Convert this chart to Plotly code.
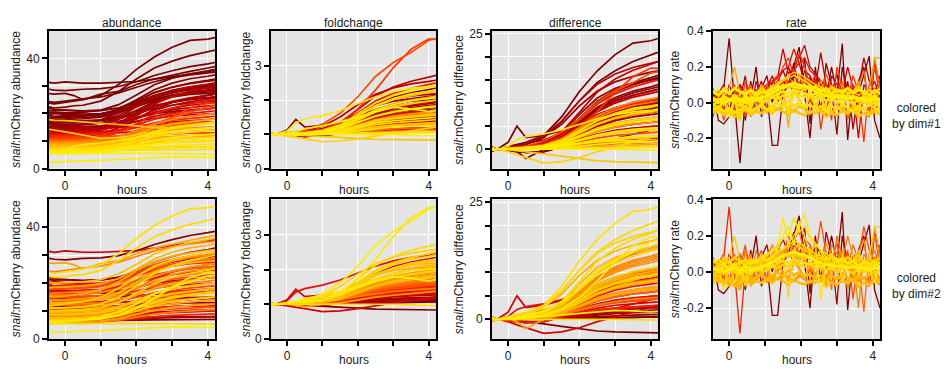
import plotly.graph_objects as go
from plotly.colors import sample_colorscale

# ---------------- data ----------------
HOURS = [-0.45, -0.3, 0, 0.25, 0.5, 1, 1.5, 2, 2.5, 3, 3.5, 4, 4.2]

# snail:mCherry abundance trajectories (one list per cell)
ABUNDANCE = [
    [31.3, 31, 31.5, 31.2, 31, 31, 31.2, 31.6, 32.5, 33.5, 34.3, 35.2, 35.5],
    [23.8, 23.5, 24, 24.5, 25, 26.5, 30.5, 36, 40.5, 44, 46.5, 47, 47.5],
    [22.4, 22, 22.3, 22.8, 23, 24.5, 28, 32.5, 36.5, 39, 41, 42.5, 43],
    [28.8, 28.5, 28.3, 28.6, 28.8, 29, 29.8, 31.5, 33.8, 35.5, 37, 38, 38.5],
    [27.2, 27, 27.3, 26.5, 25, 27, 28, 30.5, 32.5, 34, 35.3, 36.5, 37],
    [24.3, 24, 24.5, 25, 25.3, 26, 27.5, 29.5, 31.5, 33, 34, 34.7, 35],
    [22, 21.5, 21.2, 21, 20.8, 21, 22, 24.5, 27.5, 29.5, 31, 32, 32.5],
    [21.2, 21, 21.2, 21, 21, 21.2, 22, 24, 26.5, 28.3, 29.5, 30.2, 30.5],
    [20.5, 20.5, 20.2, 20, 19.8, 20, 21, 23.2, 25.8, 27.5, 28.6, 29.2, 29.5],
    [19.6, 20, 19.7, 19.5, 19.3, 19.5, 20.5, 22.5, 25, 26.5, 27.7, 28.3, 28.5],
    [20.3, 20, 20.1, 20.2, 20.4, 21.2, 23.2, 26.7, 30.4, 32.8, 34.4, 35.5, 36],
    [18.3, 18.5, 18.6, 18.8, 19, 19.7, 21.6, 25, 28.6, 31, 32.6, 33.5, 34],
    [19.3, 19, 19.1, 19.2, 19.3, 19.9, 21.2, 23.6, 26.1, 27.8, 28.9, 29.7, 30],
    [17.7, 18, 18.1, 18.3, 18.4, 19, 20.6, 23.5, 26.5, 28.4, 29.7, 30.6, 31],
    [17.3, 17, 17.1, 17.2, 17.3, 17.7, 18.8, 20.8, 22.9, 24.2, 25.1, 25.7, 26],
    [16.2, 16.5, 16.6, 16.8, 16.9, 17.6, 19.3, 22.4, 25.6, 27.7, 29.1, 30, 30.5],
    [16.4, 16, 16.1, 16.1, 16.2, 16.5, 17.2, 18.5, 19.9, 20.8, 21.4, 21.8, 22],
    [15.3, 15.5, 15.6, 15.8, 15.9, 16.6, 18.2, 21.2, 24.3, 26.3, 27.7, 28.6, 29],
    [15.2, 15, 15.3, 15.7, 16.2, 17.6, 20.4, 24.4, 27.6, 29.6, 30.8, 31.7, 32],
    [14.8, 14.5, 14.5, 14.6, 14.6, 14.7, 15, 15.5, 16.1, 16.5, 16.8, 17, 17],
    [13.7, 14, 14.1, 14.3, 14.4, 15, 16.6, 19.5, 22.5, 24.4, 25.7, 26.6, 27],
    [13.8, 13.5, 13.6, 13.7, 13.8, 14.2, 15.2, 17.1, 19, 20.3, 21.2, 21.7, 22],
    [12.8, 13, 13.1, 13.3, 13.4, 14, 15.5, 18.3, 21.1, 23, 24.3, 25.1, 25.5],
    [12.7, 12.5, 12.5, 12.6, 12.6, 12.7, 13, 13.5, 14.1, 14.5, 14.8, 15, 15],
    [11.8, 12, 12.4, 12.8, 13.3, 14.9, 18.1, 22.5, 26.1, 28.3, 29.7, 30.6, 31],
    [11.2, 11, 11.2, 11.4, 11.6, 12.5, 14.8, 19, 23.4, 26.2, 28.1, 29.4, 30],
    [12.2, 12, 12.1, 12.1, 12.2, 12.6, 13.4, 14.9, 16.6, 17.6, 18.3, 18.8, 19],
    [11.3, 11.5, 11.5, 11.5, 11.6, 11.6, 11.8, 12.1, 12.5, 12.7, 12.9, 13, 13],
    [11.3, 11, 11.1, 11.2, 11.3, 11.9, 13.2, 15.6, 18.2, 19.8, 20.9, 21.7, 22],
    [10.3, 10.5, 10.6, 10.6, 10.7, 11, 11.8, 13.2, 14.7, 15.7, 16.4, 16.8, 17],
    [10.2, 10, 10.2, 10.3, 10.5, 11.2, 13, 16.3, 19.8, 22, 23.5, 24.6, 25],
    [9.8, 10, 10, 10, 10.1, 10.2, 10.4, 10.8, 11.3, 11.6, 11.8, 11.9, 12],
    [9.7, 9.5, 9.6, 9.7, 9.8, 10.3, 11.6, 13.9, 16.3, 17.9, 19, 19.7, 20],
    [6.2, 6, 6.2, 6.5, 6.7, 7.8, 9.7, 12.6, 16.2, 18.6, 20.4, 22.5, 22.8],
    [6.4, 6.3, 6.4, 6.6, 6.8, 7.2, 8.5, 11, 14.5, 18.6, 22, 23.9, 23.8],
    [9.2, 9, 9.1, 9.1, 9.2, 9.5, 10.2, 11.5, 12.9, 13.8, 14.4, 14.8, 15],
    [8.8, 9, 9, 9, 9, 9.1, 9.2, 9.4, 9.6, 9.8, 9.9, 10, 10],
    [8.7, 8.5, 8.6, 8.7, 8.8, 9.3, 10.4, 12.5, 14.7, 16.1, 17, 17.7, 18],
    [7.8, 8, 8, 8.1, 8.1, 8.4, 8.9, 9.9, 10.9, 11.6, 12, 12.4, 12.5],
    [7.7, 7.5, 7.6, 7.7, 7.8, 8.3, 9.4, 11.5, 13.7, 15.1, 16, 16.7, 17],
    [7.4, 7.5, 7.5, 7.5, 7.5, 7.5, 7.6, 7.7, 7.8, 7.9, 8, 8, 8],
    [7.2, 7, 7.1, 7.1, 7.2, 7.6, 8.4, 9.9, 11.6, 12.6, 13.3, 13.8, 14],
    [6.9, 7, 7, 7.1, 7.1, 7.2, 7.6, 8.3, 9, 9.4, 9.7, 9.9, 10],
    [6.6, 6.5, 6.6, 6.7, 6.8, 7.2, 8.2, 10.1, 12, 13.3, 14.2, 14.7, 15],
    [6.6, 6.5, 6.5, 6.5, 6.5, 6.5, 6.6, 6.7, 6.8, 6.9, 7, 7, 7],
    [6.1, 6, 6, 6.1, 6.1, 6.2, 6.6, 7.3, 8, 8.4, 8.7, 8.9, 9],
    [5.9, 6, 6.1, 6.1, 6.2, 6.5, 7.3, 8.7, 10.2, 11.2, 11.9, 12.3, 12.5],
    [5.4, 5.5, 5.5, 5.4, 5.5, 5.5, 5.6, 5.5, 5.6, 5.5, 5.4, 5.3, 5.3],
    [2.3, 2.4, 2.5, 2.6, 2.8, 3, 3.3, 3.6, 4, 4.3, 4.2, 4.0, 4.1],
    [11.3, 11.5, 13, 16.5, 14, 14.5, 15.5, 18, 21.5, 24, 25.5, 26.5, 27],
    [6, 6, 6.6, 8.1, 8.7, 9.3, 10.2, 11.4, 12.6, 13.5, 14.1, 14.4, 14.7],
    [17.8, 17.5, 17.4, 17.2, 17, 16.5, 16, 15.5, 15, 14.8, 14.7, 14.7, 14.6],
    [14.3, 14, 13.5, 12.8, 12.2, 11, 11.3, 12.2, 13.5, 14.5, 15.5, 16.5, 17],
    [18.6, 18.8, 18.9, 19, 19.1, 19.5, 20.5, 22.5, 24.6, 26, 26.9, 27.3, 27.5],
    [18, 17.8, 17.9, 18, 18.1, 18.7, 20.1, 22.7, 25.2, 26.8, 27.8, 28.3, 28.5],
    [16.6, 16.8, 16.9, 17, 17.1, 17.4, 18.3, 20, 21.8, 23, 23.8, 24.3, 24.5],
    [16, 15.8, 15.9, 16, 16.1, 16.6, 17.9, 20.1, 22.5, 24, 25.1, 25.7, 26],
    [14.6, 14.8, 14.9, 15, 15.1, 15.5, 16.5, 18.3, 20.1, 21.4, 22.2, 22.8, 23],
    [14, 13.8, 13.9, 14, 14.1, 14.6, 15.8, 18.1, 20.4, 21.9, 23, 23.7, 24],
    [12.8, 13, 13, 13.1, 13.1, 13.4, 14, 15.1, 16.2, 17, 17.5, 17.9, 18],
    [12.4, 12.2, 12.3, 12.4, 12.5, 12.9, 14, 15.9, 17.9, 19.2, 20.1, 20.7, 21],
    [10.6, 10.8, 10.8, 10.9, 10.9, 11.1, 11.5, 12.4, 13.2, 13.8, 14.1, 14.4, 14.5],
    [10, 9.8, 9.9, 10, 10.1, 10.5, 11.4, 13.2, 15.1, 16.4, 17.2, 17.8, 18],
    [9, 9.2, 9.2, 9.3, 9.3, 9.4, 9.8, 10.4, 11, 11.4, 11.7, 11.9, 12],
    [8.4, 8.2, 8.3, 8.4, 8.4, 8.8, 9.6, 11.1, 12.6, 13.6, 14.3, 14.8, 15],
    [7.6, 7.8, 7.8, 7.9, 7.9, 8, 8.3, 8.9, 9.5, 9.9, 10.2, 10.4, 10.5],
    [7.4, 7.2, 7.3, 7.3, 7.4, 7.6, 8.1, 9.1, 10.1, 10.7, 11.1, 11.4, 11.5],
    [6.7, 6.8, 6.9, 7, 7.1, 7.6, 8.7, 10.9, 13.1, 14.6, 15.6, 16.2, 16.5],
    [6.4, 6.3, 6.3, 6.3, 6.4, 6.4, 6.6, 7, 7.4, 7.7, 7.8, 7.9, 8],
    [5.7, 5.8, 5.8, 5.9, 5.9, 6.2, 6.8, 7.8, 8.9, 9.6, 10.1, 10.4, 10.5],
    [8.9, 8.8, 8.9, 9.0, 9.2, 9.7, 11.1, 13.5, 16.1, 17.8, 19, 19.7, 20],
    [12.6, 12.8, 13, 13.2, 13.4, 14.2, 16.4, 20.3, 23.9, 26, 27.2, 27.8, 28],
    [15.2, 15, 15, 15.1, 15.1, 15.4, 16, 17.1, 18.3, 19.1, 19.6, 19.9, 20],
]
# colour value of each cell along embedding dimension 1 and 2 (0 = dark red, 1 = yellow)
DIM1 = [0.0, 0.01, 0.02, 0.0, 0.03, 0.02, 0.04, 0.03, 0.05, 0.06, 0.02, 0.04,
        0.06, 0.07, 0.09, 0.1, 0.12, 0.13, 0.1, 0.16, 0.18, 0.22, 0.25, 0.3,
        0.22, 0.25, 0.4, 0.45, 0.42, 0.5, 0.38, 0.55, 0.58, 0.5, 0.45, 0.65,
        0.7, 0.72, 0.76, 0.8, 0.82, 0.85, 0.88, 0.9, 0.92, 0.95, 0.97, 1.0, 1.0,
        0.03, 0.95, 0.8, 0.85,
        0.05, 0.08, 0.11, 0.14, 0.17, 0.22, 0.3, 0.35, 0.5, 0.6, 0.66, 0.75,
        0.8, 0.86, 0.9, 0.94, 0.98, 0.6, 0.15, 0.15]
DIM2 = [0.25, 0.92, 0.88, 0.05, 0.7, 0.6, 0.1, 0.05, 0.3, 0.4, 0.78, 0.74,
        0.35, 0.5, 0.3, 0.62, 0.2, 0.6, 0.72, 0.1, 0.65, 0.5, 0.66, 0.15,
        0.86, 0.88, 0.48, 0.1, 0.7, 0.52, 0.84, 0.2, 0.74, 0.98, 0.96, 0.55,
        0.08, 0.76, 0.45, 0.8, 0.04, 0.7, 0.35, 0.82, 0.06, 0.4, 0.72, 0.9, 1.0,
        0.3, 0.35, 0.02, 0.3,
        0.4, 0.5, 0.35, 0.55, 0.5, 0.62, 0.35, 0.6, 0.3, 0.7, 0.3, 0.7,
        0.25, 0.5, 0.85, 0.2, 0.6, 0.8, 0.75, 0.25]

RATE_HOURS = [-0.45, -0.3, -0.15, 0, 0.15, 0.3, 0.45, 0.6, 0.75, 0.9, 1.05, 1.2,
              1.35, 1.5, 1.65, 1.8, 1.95, 2.1, 2.25, 2.4, 2.55, 2.7, 2.85, 3.0,
              3.15, 3.3, 3.45, 3.6, 3.75, 3.9, 4.05, 4.2]
RATE = [
    [0.04, -0.02, 0.08, 0.36, 0.0, -0.34, 0.02, 0.08, -0.05, 0.06, 0.03, 0.1, 0.05, 0.12, 0.08, 0.15,
     0.1, 0.06, 0.12, 0.04, 0.1, 0.05, 0.08, 0.02, 0.06, 0.1, 0.03, 0.07, 0.02, 0.05, 0.08, 0.03],
    [0.08, -0.1, -0.12, -0.08, 0.05, 0.1, -0.05, 0.02, 0.2, -0.08, 0.05, -0.24, -0.24, 0.05, 0.1, 0.2,
     0.31, 0.05, -0.2, 0.15, 0.1, 0.02, 0.2, 0.05, 0.33, -0.21, 0.1, 0.05, 0.15, 0.26, -0.1, -0.2],
    [-0.02, 0.05, -0.05, 0.1, 0.02, 0.08, -0.1, 0.12, -0.05, 0.08, 0.15, 0.0, 0.12, 0.18, 0.1, 0.22,
     0.08, 0.25, -0.12, 0.2, -0.05, 0.22, 0.1, -0.18, 0.2, 0.05, -0.05, 0.12, 0.2, -0.08, 0.22, 0.1],
    [0.0, 0.05, 0.1, -0.05, 0.08, 0.02, 0.15, -0.08, 0.05, 0.12, -0.05, 0.1, 0.0, 0.08, 0.2, 0.12,
     0.05, 0.18, 0.15, 0.08, 0.28, 0.1, 0.05, 0.16, 0.02, 0.12, -0.15, 0.08, 0.25, 0.12, 0.05, 0.15],
    [0.05, -0.05, 0.02, 0.06, -0.08, 0.1, 0.05, -0.06, 0.12, 0.02, 0.08, 0.15, 0.05, 0.12, 0.08, 0.18,
     0.22, 0.1, 0.14, 0.05, 0.12, -0.08, 0.15, 0.1, 0.05, 0.2, 0.08, -0.2, 0.1, 0.05, 0.12, 0.02],
    [0.02, 0.06, -0.04, 0.05, 0.1, -0.05, 0.12, 0.05, 0.0, 0.08, -0.06, 0.1, 0.15, 0.08, 0.12, 0.05,
     0.16, 0.1, 0.0, 0.12, 0.05, 0.1, -0.1, 0.2, 0.08, 0.02, 0.15, 0.06, -0.22, 0.1, 0.2, 0.04],
    [-0.04, 0.03, 0.07, 0.0, 0.05, 0.08, 0.0, 0.1, -0.04, 0.05, 0.1, 0.02, 0.12, 0.06, 0.15, 0.1,
     0.05, 0.14, 0.1, 0.08, 0.02, 0.16, 0.08, 0.05, 0.12, -0.1, 0.06, 0.1, 0.18, -0.05, 0.25, 0.08],
    [0.03, 0.0, 0.05, 0.08, 0.2, 0.05, -0.05, 0.06, 0.02, 0.1, 0.04, 0.08, 0.05, 0.1, -0.14, 0.12,
     0.15, 0.08, 0.1, 0.05, 0.12, 0.04, 0.08, -0.02, 0.1, 0.04, 0.06, 0.12, 0.02, 0.08, 0.25, 0.25],
    [0.02, 0.04, 0.0, 0.03, 0.05, 0.02, 0.04, 0.06, 0.05, 0.08, 0.1, 0.12, 0.15, 0.18, 0.2, 0.3,
     0.22, 0.25, 0.18, 0.15, 0.12, 0.1, 0.08, 0.06, 0.08, 0.05, 0.04, 0.06, 0.03, 0.05, 0.04, 0.02],
    [0.0, 0.03, 0.05, 0.02, 0.04, 0.06, 0.03, 0.05, 0.07, 0.06, 0.09, 0.11, 0.14, 0.3, 0.16, 0.2,
     0.25, 0.32, 0.2, 0.16, 0.12, 0.08, 0.1, 0.05, 0.07, 0.04, 0.06, 0.03, 0.05, 0.04, 0.06, 0.03],
    [0.03, 0.01, 0.04, 0.02, 0.03, 0.01, 0.04, 0.02, 0.05, 0.04, 0.06, 0.08, 0.1, 0.12, 0.14, 0.15,
     0.14, 0.12, 0.1, 0.08, 0.07, 0.06, 0.05, 0.04, 0.05, 0.03, 0.04, 0.03, 0.02, 0.04, 0.03, 0.02],
    [0.01, 0.02, 0.0, 0.01, 0.02, 0.0, 0.03, 0.01, 0.02, 0.03, 0.04, 0.05, 0.07, 0.09, 0.1, 0.11,
     0.1, 0.09, 0.08, 0.06, 0.05, 0.04, 0.04, 0.03, 0.03, 0.02, 0.03, 0.02, 0.02, 0.01, 0.02, 0.02],
    [-0.04, -0.02, -0.05, -0.03, -0.06, -0.04, -0.02, -0.05, -0.03, -0.01, -0.04, -0.02, 0.0, -0.03, 0.01, -0.02,
     0.0, -0.03, -0.01, -0.04, -0.02, -0.05, -0.02, -0.04, -0.01, -0.03, -0.05, -0.02, -0.04, -0.01, -0.03, -0.05],
    [0.06, 0.04, 0.07, 0.05, 0.08, 0.06, 0.05, 0.07, 0.04, 0.06, 0.05, 0.07, 0.09, 0.08, 0.1, 0.09,
     0.08, 0.1, 0.07, 0.09, 0.06, 0.08, 0.05, 0.07, 0.06, 0.08, 0.05, 0.07, 0.06, 0.04, 0.07, 0.05],
    [-0.08, 0.02, -0.1, 0.04, -0.06, 0.02, -0.08, 0.03, 0.0, 0.05, 0.02, 0.08, 0.12, 0.2, 0.25, 0.15,
     0.28, 0.2, 0.1, 0.15, -0.15, 0.05, 0.02, 0.08, -0.05, 0.04, 0.1, -0.02, 0.06, 0.02, -0.06, 0.04],
    [0.0, -0.06, 0.04, -0.08, 0.02, -0.1, 0.05, -0.04, 0.06, -0.02, 0.03, -0.06, 0.04, 0.0, -0.05, 0.06,
     0.02, -0.04, 0.05, -0.02, 0.04, -0.06, 0.02, 0.05, -0.03, 0.06, 0.0, -0.04, 0.05, -0.02, 0.03, -0.05],
    [0.02, 0.0, 0.03, 0.01, 0.04, 0.02, 0.0, 0.03, 0.01, 0.02, 0.04, 0.03, 0.05, 0.06, 0.05, 0.07,
     0.06, 0.05, 0.04, 0.05, 0.03, 0.04, 0.02, 0.03, 0.04, 0.02, 0.03, 0.01, 0.03, 0.02, 0.04, 0.01],
    [-0.02, 0.01, -0.01, 0.02, 0.0, -0.02, 0.01, -0.01, 0.02, 0.0, 0.01, 0.03, 0.02, 0.04, 0.03, 0.05,
     0.04, 0.03, 0.05, 0.02, 0.03, 0.01, 0.02, 0.0, 0.02, 0.01, -0.01, 0.02, 0.0, 0.01, -0.01, 0.01],
    [0.05, 0.07, 0.04, 0.06, 0.03, 0.05, 0.07, 0.04, 0.06, 0.08, 0.06, 0.09, 0.11, 0.13, 0.15, 0.17,
     0.16, 0.14, 0.12, 0.1, 0.09, 0.07, 0.08, 0.06, 0.07, 0.05, 0.06, 0.04, 0.06, 0.05, 0.03, 0.05],
    [-0.06, -0.03, -0.07, -0.04, -0.05, -0.07, -0.03, -0.06, -0.04, -0.02, -0.05, -0.03, -0.04, -0.01, -0.03, -0.05,
     -0.02, -0.04, -0.06, -0.03, -0.05, -0.02, -0.06, -0.03, -0.04, -0.06, -0.02, -0.05, -0.03, -0.06, -0.04, -0.07],
    [0.07, 0.04, 0.08, 0.05, 0.08, 0.06, 0.04, 0.07, 0.05, 0.08, 0.06, 0.09, 0.07, 0.1, 0.08, 0.1,
     0.09, 0.07, 0.1, 0.06, 0.08, 0.05, 0.09, 0.07, 0.05, 0.08, 0.06, 0.09, 0.05, 0.07, 0.05, 0.08],
    [-0.06, -0.04, -0.07, -0.05, -0.08, -0.06, -0.04, -0.07, -0.05, -0.06, -0.04, -0.06, -0.03, -0.05, -0.07, -0.04,
     -0.06, -0.07, -0.05, -0.06, -0.04, -0.08, -0.06, -0.07, -0.05, -0.06, -0.04, -0.08, -0.06, -0.07, -0.05, -0.06],
]
RATE_DIM1 = [0.0, 0.03, 0.08, 0.2, 0.3, 0.45, 0.55, 0.7, 0.35, 0.3, 0.95, 1.0, 0.92, 0.98, 0.45, 0.88,
             0.96, 0.9, 0.85, 0.8, 0.84, 0.8]
RATE_DIM2 = [0.4, 0.05, 0.15, 0.5, 0.6, 0.55, 0.65, 0.85, 0.9, 0.95, 0.8, 1.0, 0.75, 0.78, 0.92, 0.7,
             0.9, 0.85, 0.95, 0.65, 0.82, 0.78]

PANEL_TITLES = ["abundance", "foldchange", "difference", "rate"]
ROW_LABELS = ["colored<br>by dim#1", "colored<br>by dim#2"]

# derived quantities (relative to the reference frame at -0.3 h)
FOLDCHANGE = [[v / line[1] for v in line] for line in ABUNDANCE]
DIFFERENCE = [[v - line[1] for v in line] for line in ABUNDANCE]

# ---------------- styling ----------------
W, H = 946, 370
FONT = "Liberation Sans, Arial, Helvetica, sans-serif"
SCALE = [[0.0, "#780000"], [0.15, "#a00000"], [0.3, "#d40000"], [0.45, "#ff3300"],
         [0.6, "#ff8000"], [0.75, "#ffb800"], [0.9, "#ffdd00"], [1.0, "#ffee00"]]
COL_X = [(49, 215), (271, 436), (492, 658), (713, 880)]
ROW_Y = [(25, 168), (200, 345)]
YTITLE_X = [16, 246, 459, 675]

panels = [
    (HOURS, ABUNDANCE, [0, 49.9], [0, 10, 20, 30, 40], ["0", "", "", "", "40"]),
    (HOURS, FOLDCHANGE, [0, 4.02], [0, 1, 2, 3], ["0", "", "", "3"]),
    (HOURS, DIFFERENCE, [-4.2, 25.6], [0, 5, 10, 15, 20, 25], ["0", "", "", "", "", "25"]),
    (RATE_HOURS, RATE, [-0.37, 0.4], [-0.2, 0, 0.2, 0.4], ["-0.2", "0.0", "0.2", "0.4"]),
]


def colour(v):
    return sample_colorscale(SCALE, [v])[0]


def line_width(panel, values):
    if panel == 3:
        return 2.6 if max(abs(v) for v in values) < 0.12 else 1.3
    return 1.7


fig = go.Figure()
layout = {}
annotations = []

for r in range(2):
    for c in range(4):
        k = r * 4 + c + 1
        xs, series, yrange, yticks, ytext = panels[c]
        if c == 3:
            dims = RATE_DIM1 if r == 0 else RATE_DIM2
        else:
            dims = DIM1 if r == 0 else DIM2
        order = sorted(range(len(series)), key=lambda i: dims[i])
        xref = "x" if k == 1 else f"x{k}"
        yref = "y" if k == 1 else f"y{k}"
        for i in order:
            fig.add_trace(go.Scatter(
                x=xs, y=series[i], mode="lines", xaxis=xref, yaxis=yref,
                line=dict(color=colour(dims[i]), width=line_width(c, series[i])),
                hoverinfo="skip", showlegend=False))
        x0, x1 = COL_X[c]
        y0, y1 = ROW_Y[r]
        common = dict(showline=True, linecolor="black", linewidth=1.8, mirror=True,
                      ticks="outside", ticklen=5, tickwidth=1.5, tickcolor="black",
                      showgrid=True, gridcolor="white", gridwidth=1.4, zeroline=False,
                      tickfont=dict(family=FONT, size=12, color="#222"))
        layout["xaxis" if k == 1 else f"xaxis{k}"] = dict(
            domain=[x0 / W, x1 / W], range=[-0.45, 4.2], anchor=yref,
            tickvals=[0, 1, 2, 3, 4], ticktext=["0", "", "", "", "4"], **common)
        layout["yaxis" if k == 1 else f"yaxis{k}"] = dict(
            domain=[1 - y1 / H, 1 - y0 / H], range=yrange, anchor=xref,
            tickvals=yticks, ticktext=ytext, **common)
        annotations.append(dict(
            text=f"<i>snail</i>:mCherry {PANEL_TITLES[c]}", textangle=-90,
            xref="paper", yref="paper", x=YTITLE_X[c] / W, y=1 - (y0 + y1) / 2 / H,
            xanchor="center", yanchor="middle", showarrow=False,
            font=dict(family=FONT, size=12, color="#222")))
        annotations.append(dict(
            text="hours", xref="paper", yref="paper", x=(x0 + x1) / 2 / W,
            y=1 - (y1 + 22) / H, xanchor="center", yanchor="middle", showarrow=False,
            font=dict(family=FONT, size=12, color="#222")))
        if r == 0:
            annotations.append(dict(
                text=PANEL_TITLES[c], xref="paper", yref="paper", x=(x0 + x1) / 2 / W,
                y=1 - 17 / H, xanchor="center", yanchor="middle", showarrow=False,
                font=dict(family=FONT, size=12, color="#222")))
    y0, y1 = ROW_Y[r]
    annotations.append(dict(
        text=ROW_LABELS[r], xref="paper", yref="paper", x=916 / W,
        y=1 - ((y0 + y1) / 2 + 17) / H, xanchor="center", yanchor="middle",
        showarrow=False, align="center", font=dict(family=FONT, size=12, color="#222")))

fig.update_layout(
    width=W, height=H, margin=dict(l=0, r=0, t=0, b=0),
    paper_bgcolor="white", plot_bgcolor="#e4e4e4",
    annotations=annotations, **layout)

fig.write_html("out.html")
